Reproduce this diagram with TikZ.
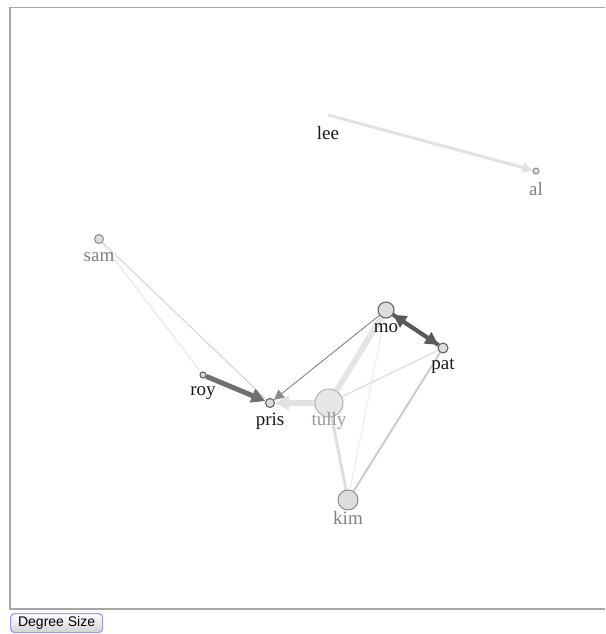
\documentclass[tikz,border=0pt]{standalone}
\usepackage{fontspec}
\setmainfont{Liberation Serif}
\newfontfamily\btnfont{Liberation Sans}
\usetikzlibrary{arrows.meta,backgrounds}
\definecolor{nodefill}{HTML}{DDDDDD}
\definecolor{linklight}{HTML}{E2E2E2}
\definecolor{linkdark}{HTML}{707070}

\begin{document}
\begin{tikzpicture}[
    x=1pt, y=-1pt,
    person/.style={draw=black!65, fill=nodefill, circle, inner sep=0pt, line width=1pt},
    faded/.style={draw=black!45},
    lbl/.style={anchor=base, yshift=-18pt, font=\fontsize{19}{21}\selectfont, text=black!90},
    lblfaded/.style={lbl, text=black!50},
    link/.style={draw=linklight, line width=1pt},
    arr/.style={-{Triangle[length=#1, width=#1]}},
  ]
  \useasboundingbox (0,0) rectangle (605,634);

  % frame
  \draw[black!35, line width=0.8pt] (605,7.5) -- (10,7.5);
  \draw[black!35, line width=1.8pt] (10,7) -- (10,609) -- (605,609);

  % people
  \node[person, minimum size=0pt, draw=none, fill=none, label={[lbl]center:lee}] (lee) at (328,115) {};
  \node[person, faded, minimum size=6pt, label={[lblfaded]center:al}] (al) at (536,171) {};
  \node[person, faded, minimum size=9pt, label={[lblfaded]center:sam}] (sam) at (99,239) {};
  \node[person, minimum size=6pt, label={[lbl]center:roy}] (roy) at (203,375) {};
  \node[person, minimum size=9pt, label={[lbl]center:pris}] (pris) at (270,403) {};
  \node[person, faded, draw=black!30, minimum size=28pt, fill=nodefill!70, label={[lblfaded, text=black!40]center:tully}] (tully) at (329,403) {};
  \node[person, minimum size=16pt, label={[lbl]center:mo}] (mo) at (386,310) {};
  \node[person, minimum size=10pt, label={[lbl]center:pat}] (pat) at (443,348) {};
  \node[person, faded, minimum size=20pt, label={[lblfaded]center:kim}] (kim) at (348,500) {};

  % links
  \begin{scope}[on background layer]
    \draw[link, line width=3pt, arr=10pt] (lee) -- (al);
    \draw[link, line width=0.8pt] (sam) -- (roy);
    \draw[link, draw=black!20, line width=0.8pt] (sam) -- (pris);
    \draw[link, line width=6pt, arr=14pt] (tully) -- (pris);
    \draw[link, draw=linklight!90, line width=6pt] (tully) -- (mo);
    \draw[link, line width=1.5pt] (tully) -- (pat);
    \draw[link, draw=linklight!70, line width=1pt] (mo) -- (kim);
    \draw[link, draw=black!13, line width=3pt] (tully) -- (kim);
    \draw[link, draw=black!20, line width=2pt] (pat) -- (kim);
    \draw[link, draw=black!45, line width=1pt, arr=10pt] (mo) -- (pris);
    \draw[link, draw=linkdark, line width=5pt, arr=14pt] (roy) -- (pris);
    \draw[link, draw=black!65, line width=4pt, arr=13pt] (mo) -- (pat);
    \draw[link, draw=black!65, line width=4pt, arr=13pt] (pat) -- (mo);
  \end{scope}

  % button
  \node[draw=blue!40, rounded corners=4pt, line width=1.2pt, top color=white, bottom color=black!18,
        minimum width=92pt, minimum height=19pt, inner sep=0pt, anchor=north west,
        font=\btnfont\fontsize{14}{16}\selectfont] (degree) at (10,613) {Degree Size};
\end{tikzpicture}
\end{document}
